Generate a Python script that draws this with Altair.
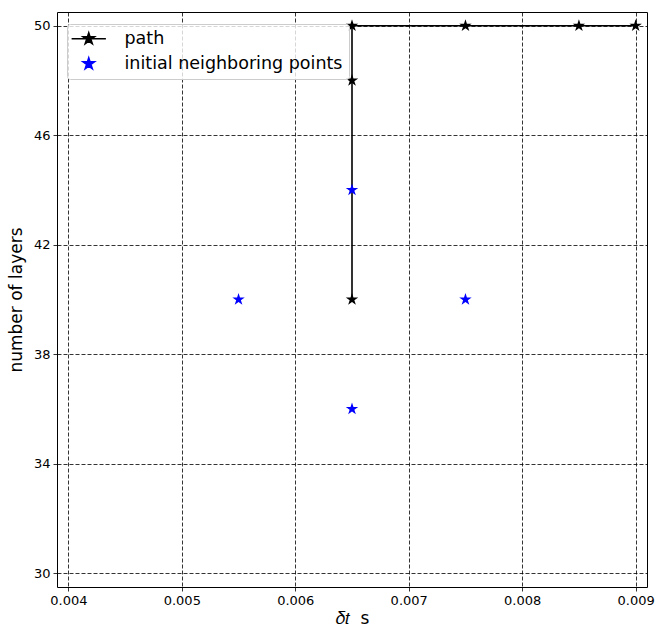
import altair as alt
import pandas as pd

# path taken
path_dt = [0.0065, 0.0065, 0.0065, 0.0075, 0.0085, 0.0090]
path_layers = [40, 48, 50, 50, 50, 50]
# initial neighbouring points
nb_dt = [0.0065, 0.0055, 0.0075, 0.0065]
nb_layers = [44, 40, 40, 36]

x_ticks = [0.004, 0.005, 0.006, 0.007, 0.008, 0.009]
y_ticks = [30, 34, 38, 42, 46, 50]

series_names = ["path", "initial neighboring points"]
series_colors = ["#000000", "#0000ff"]

STAR = ("M0,-1L0.2245,-0.309L0.951,-0.309L0.363,0.118L0.588,0.809L0,0.382"
        "L-0.588,0.809L-0.363,0.118L-0.951,-0.309L-0.2245,-0.309Z")
STAR_LINE = STAR + "M-2.8,0L2.8,0"

path_df = pd.DataFrame({"dt": path_dt, "layers": path_layers,
                        "order": list(range(len(path_dt))), "series": series_names[0]})
nb_df = pd.DataFrame({"dt": nb_dt, "layers": nb_layers, "series": series_names[1]})
all_df = pd.concat([path_df, nb_df], ignore_index=True)

xs = alt.Scale(domain=[0.0039, 0.0091], nice=False, zero=False)
ys = alt.Scale(domain=[29.5, 50.5], nice=False, zero=False)

legend = alt.Legend(
    title=None, orient="none", legendX=10, legendY=12,
    symbolSize=150, symbolStrokeWidth=1.5, symbolOpacity=1,
    labelFontSize=17.5, labelFont="DejaVu Sans", labelColor="#000000", labelLimit=0,
    rowPadding=6, symbolOffset=7, labelOffset=27,
    padding=6, fillColor="rgba(255,255,255,0.8)",
    strokeColor="#cccccc", cornerRadius=3,
)
cscale = alt.Scale(domain=series_names, range=series_colors)
fill = alt.Fill("series:N", scale=cscale, legend=legend)
stroke = alt.Stroke("series:N", scale=cscale, legend=legend)
shape = alt.Shape("series:N", scale=alt.Scale(domain=series_names, range=[STAR_LINE, STAR]),
                  legend=legend)

xenc = alt.X("dt:Q", scale=xs,
             axis=alt.Axis(values=x_ticks, format=".3f", title="𝛿𝑡\u00a0\u00a0s"))
yenc = alt.Y("layers:Q", scale=ys,
             axis=alt.Axis(values=y_ticks, format="d", title="number of layers"))

line = alt.Chart(path_df).mark_line(color="#000000", strokeWidth=1.6).encode(
    x=xenc, y=yenc, order="order:Q")
pts = alt.Chart(all_df).mark_point(
    shape=STAR, size=170, filled=True, opacity=1, strokeWidth=0).encode(
    x=xenc, y=yenc, fill=fill)
legend_layer = alt.Chart(all_df).mark_point(size=170, opacity=0).encode(
    x=xenc, y=yenc, fill=fill, stroke=stroke, shape=shape)

chart = alt.layer(line, pts, legend_layer).properties(
    width=590, height=575,
    autosize=alt.AutoSizeParams(type="none"),
    padding={"left": 57, "top": 12, "right": 8, "bottom": 41},
).configure_view(
    stroke="#000000", strokeWidth=1
).configure_axis(
    grid=True, gridColor="#000000", gridDash=[4, 2], gridWidth=0.8, gridOpacity=1,
    domain=False, ticks=True, tickColor="#000000", tickSize=4, tickWidth=0.8,
    labelFont="DejaVu Sans", labelFontSize=13, labelColor="#000000", labelPadding=3,
    titleFont="DejaVu Sans", titleFontSize=17, titleFontWeight="normal",
    titleColor="#000000",
).configure_axisX(titlePadding=3).configure_axisY(titlePadding=8)

chart.save("out.html", embed_options={"renderer": "svg", "actions": False})
